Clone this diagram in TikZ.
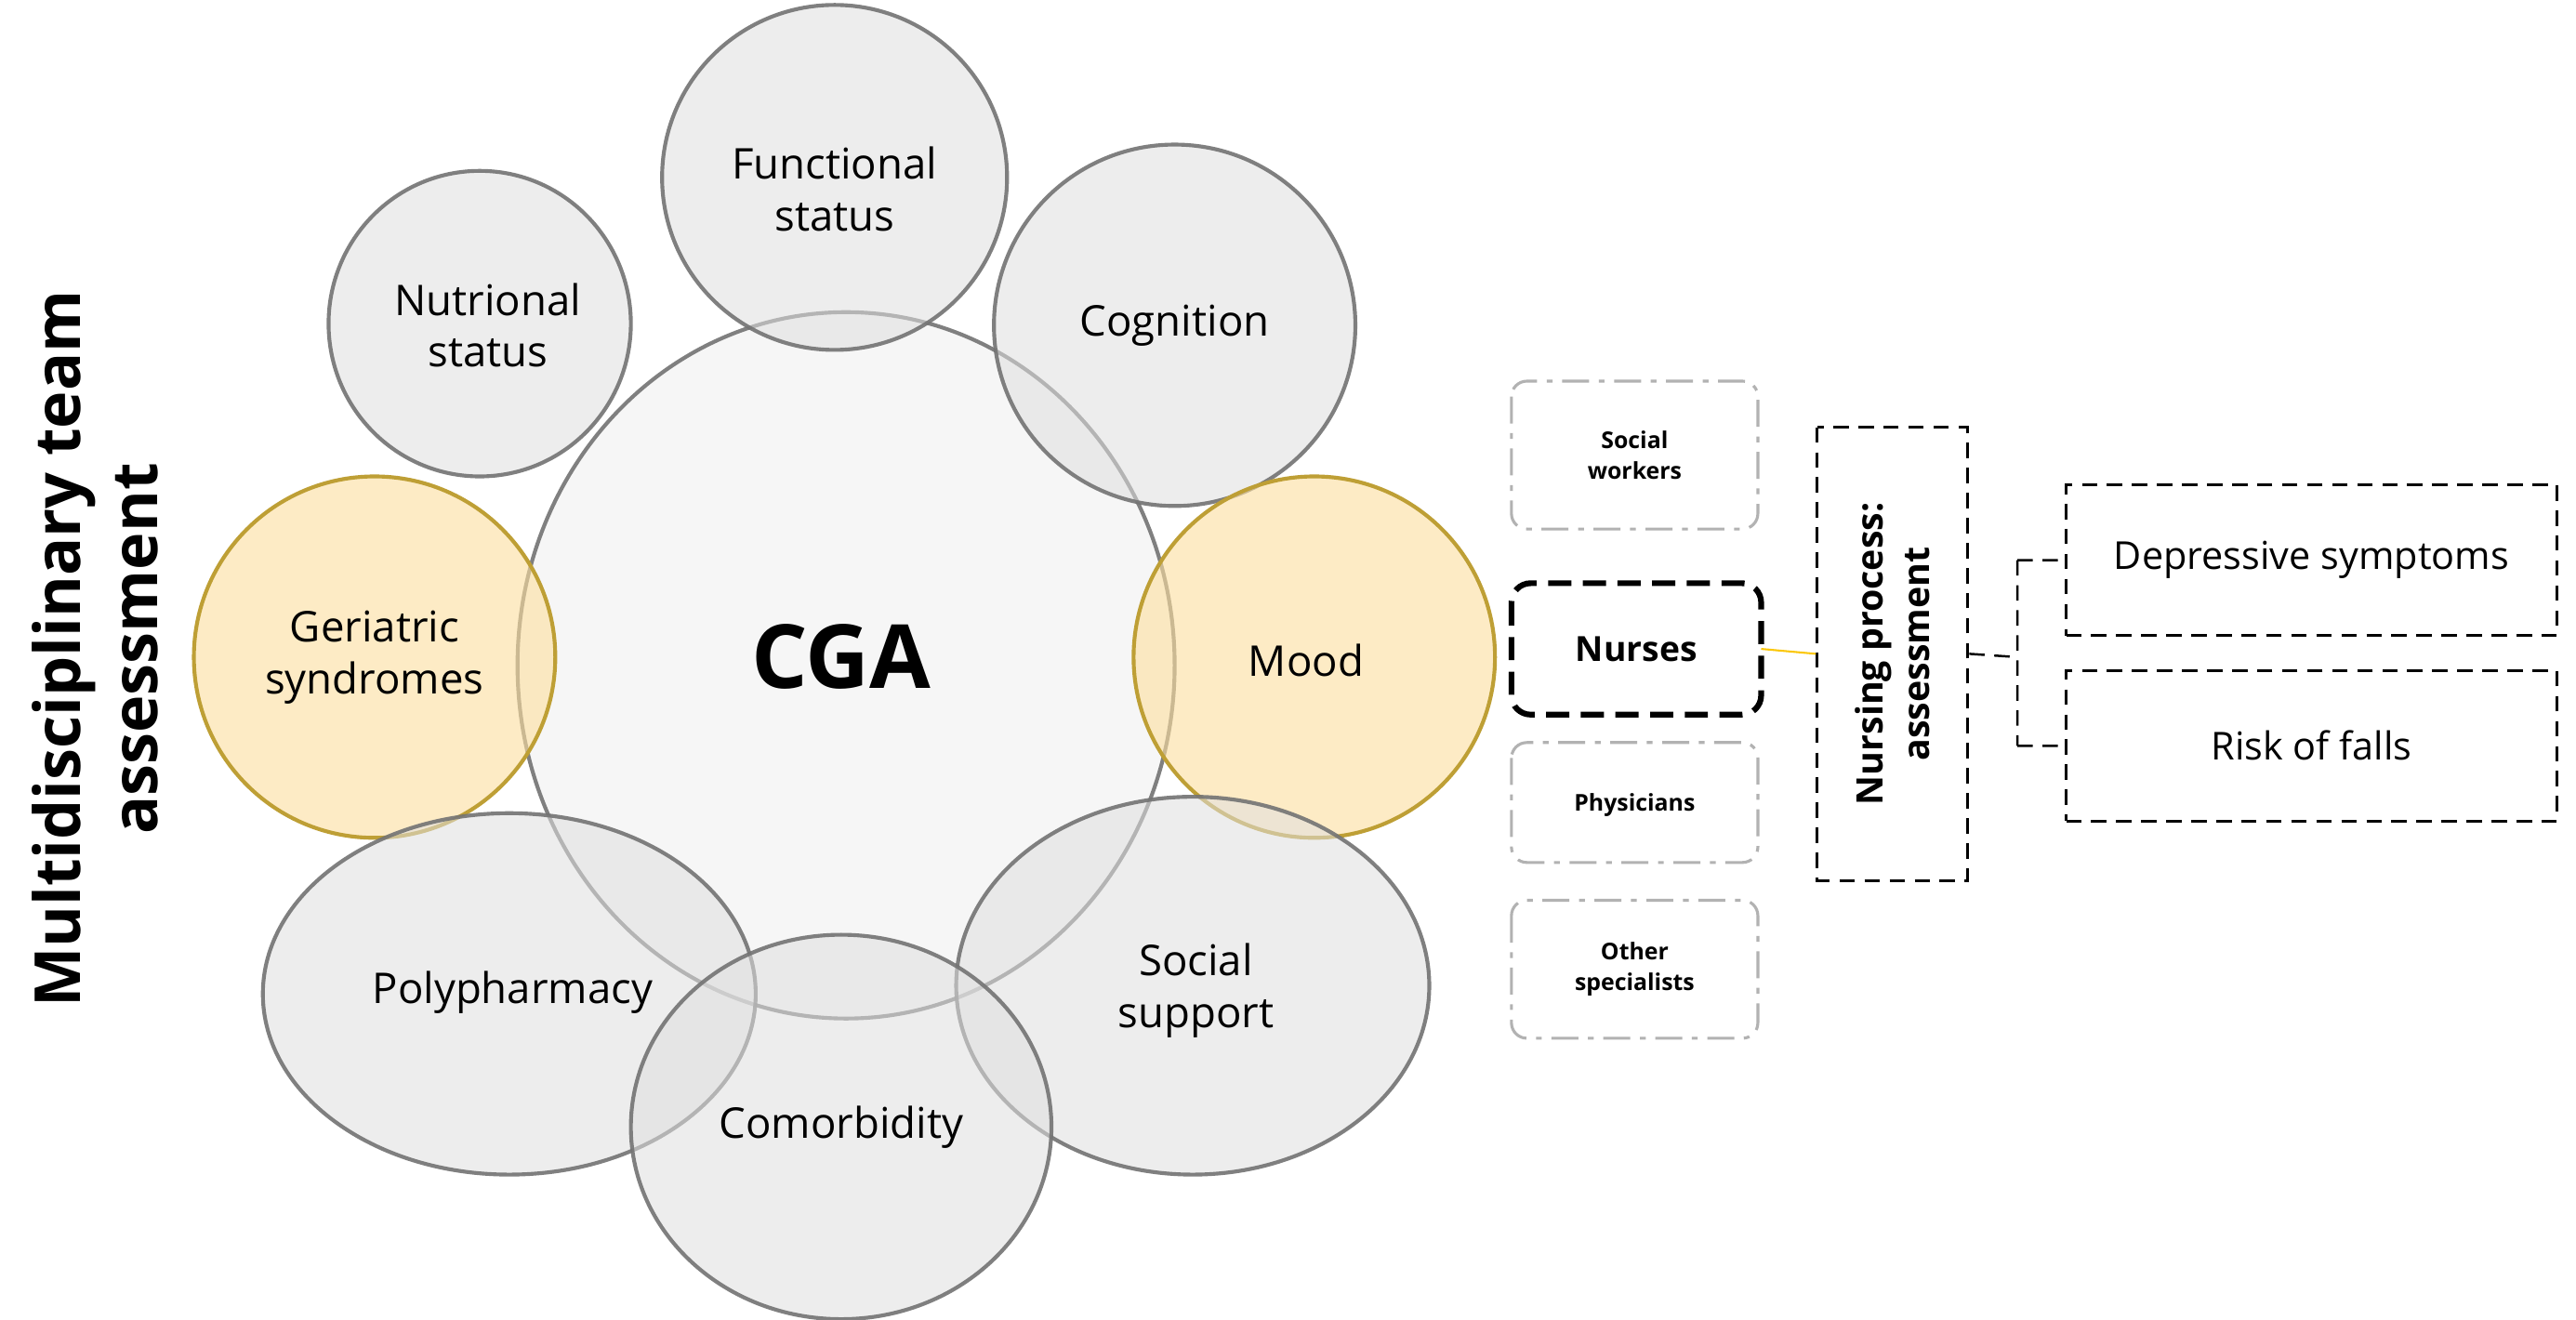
\documentclass[tikz,border=0pt]{standalone}
\usepackage{fontspec}
\setmainfont{Open Sans}
\begin{document}
\begin{tikzpicture}[x=0.03cm,y=-0.03cm,
  bub/.style={draw=black!55,line width=2pt,fill=black!12,fill opacity=0.55,draw opacity=0.9},
  ybub/.style={draw=black!40!yellow!70!orange,line width=2pt,fill=yellow!35!orange!35,fill opacity=0.6},
  lab/.style={font=\fontsize{22}{27}\selectfont,align=center,text opacity=1},
  rbox/.style={draw=black!30,line width=1.5pt,dash pattern=on 14pt off 5pt on 3pt off 5pt,rounded corners=8pt},
  rtxt/.style={font=\bfseries\fontsize{12}{16}\selectfont,align=center},
  dbox/.style={draw=black,line width=1.5pt,dash pattern=on 8pt off 5pt}]
\useasboundingbox (0,0) rectangle (1568,803);
\fill[white] (0,0) rectangle (1568,803);
\draw[bub,fill=black!6] (515,405) ellipse [x radius=200,y radius=215];
\draw[bub] (508,108) circle [radius=105];
\draw[bub] (292,197) ellipse [x radius=92,y radius=93];
\draw[bub] (715,198) circle [radius=110];
\draw[ybub] (228,400) circle [radius=110];
\draw[ybub] (800,400) circle [radius=110];
\draw[bub] (310,605) ellipse [x radius=150,y radius=110];
\draw[bub] (726,600) ellipse [x radius=144,y radius=115];
\draw[bub] (512,686) ellipse [x radius=128,y radius=117];
\node[font=\bfseries\fontsize{46}{50}\selectfont] (cga) at (512,400) {CGA};
\node[lab] (fs) at (508,115) {Functional\\status};
\node[lab] (ns) at (297,198) {Nutrional\\status};
\node[lab] (cog) at (715,198) {Cognition};
\node[lab] (ger) at (228,400) {Geriatric\\syndromes};
\node[lab] (mood) at (795,402) {Mood};
\node[lab] (poly) at (312,604) {Polypharmacy};
\node[lab] (soc) at (728,603) {Social\\support};
\node[lab] (com) at (512,686) {Comorbidity};
\node[rotate=90,font=\bfseries\fontsize{33}{40}\selectfont,align=center] (title) at (58,395) {Multidisciplinary team\\assessment};
\draw[rbox] (920,232) rectangle (1070,322);
\node[rtxt] (swt) at (995,277) {Social\\workers};
\draw[dbox,line width=3pt,dash pattern=on 12pt off 6pt,rounded corners=10pt] (920,355) rectangle (1072,435);
\node[font=\bfseries\fontsize{18}{22}\selectfont] (nur) at (996,395) {Nurses};
\draw[rbox] (920,452) rectangle (1070,525);
\node[rtxt] (phy) at (995,490) {Physicians};
\draw[rbox] (920,548) rectangle (1070,632);
\node[rtxt] (oth) at (995,590) {Other\\specialists};
\node[dbox,minimum width=277*0.85pt,minimum height=92*0.85pt,rotate=90,align=center,font=\bfseries\fontsize{19}{24}\selectfont,inner sep=0pt] (np) at (1152,398) {Nursing process:\\assessment};
\node[dbox,minimum width=300*0.85pt,minimum height=92*0.85pt,font=\fontsize{20}{24}\selectfont,inner sep=0pt] (dep) at (1407,341) {Depressive symptoms};
\node[dbox,minimum width=300*0.85pt,minimum height=92*0.85pt,font=\fontsize{20}{24}\selectfont,inner sep=0pt] (risk) at (1407,454) {Risk of falls};
\coordinate (nr) at (1072,395);
\draw[yellow!60!orange,line width=1pt] (nr) -- (np.north);
\coordinate (j) at (1228,400);
\draw[dbox,line width=1.2pt] (np.south) -- (j) (j|-dep.west) -- (dep.west) (j|-risk.west) -- (risk.west) (j|-dep.west) -- (j|-risk.west);
\end{tikzpicture}
\end{document}
